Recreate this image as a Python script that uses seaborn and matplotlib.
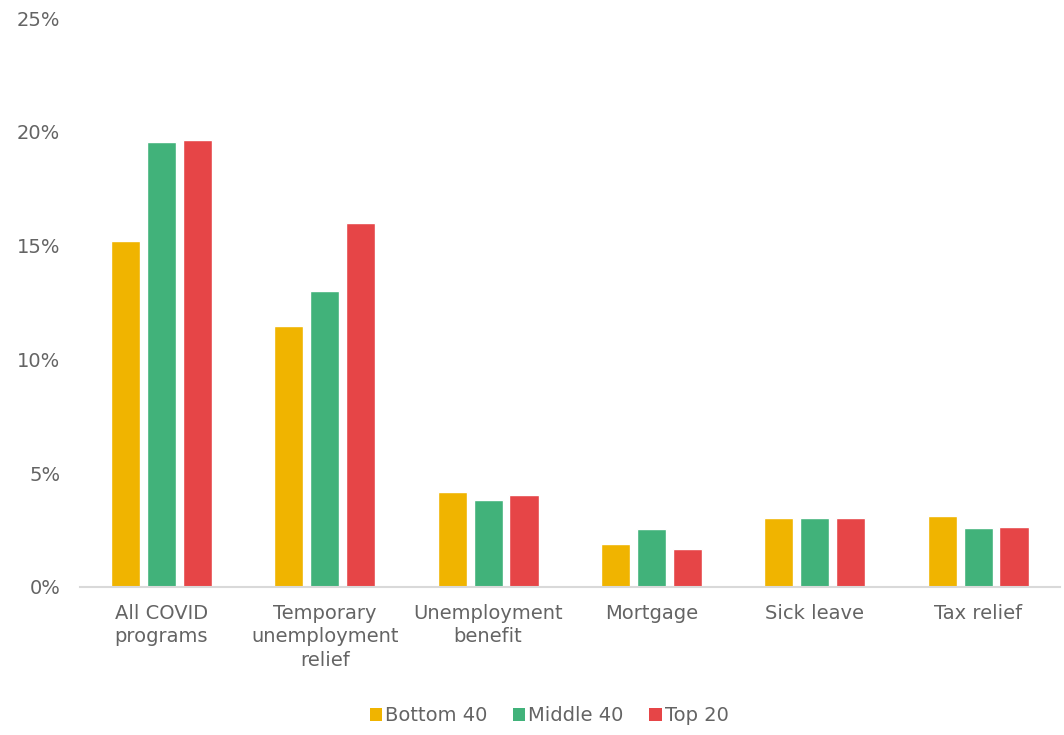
import matplotlib
matplotlib.use("Agg")
import matplotlib.pyplot as plt
import seaborn as sns
import pandas as pd
from matplotlib.ticker import PercentFormatter
from matplotlib.patches import Patch

categories = ["All COVID\nprograms", "Temporary\nunemployment\nrelief", "Unemployment\nbenefit",
              "Mortgage", "Sick leave", "Tax relief"]
series = ["Bottom 40", "Middle 40", "Top 20"]
bottom40 = [15.2, 11.45, 4.19, 1.88, 3.02, 3.11]
middle40 = [19.55, 12.99, 3.81, 2.55, 3.02, 2.58]
top20 = [19.65, 15.98, 4.04, 1.66, 3.02, 2.64]
colors = ["#F0B400", "#41B27A", "#E64547"]

rows = []
for s, vals in zip(series, [bottom40, middle40, top20]):
    for c, v in zip(categories, vals):
        rows.append({"cat": c, "series": s, "value": v / 100})
df = pd.DataFrame(rows)

sns.set_theme(style="white")
plt.rcParams['font.family'] = ['DejaVu Sans']
text_color = "#646464"

fig = plt.figure(figsize=(10.64, 7.35), dpi=100)
ax = fig.add_axes([0.075, 0.2014, 0.921, 0.774])
sns.barplot(data=df, x="cat", y="value", hue="series", palette=colors,
            width=0.66, gap=0.19, ax=ax, legend=False, saturation=1)

ax.set_ylim(0, 0.25)
ax.set_yticks([0, 0.05, 0.10, 0.15, 0.20, 0.25])
ax.yaxis.set_major_formatter(PercentFormatter(1.0, decimals=0))
ax.set_xlabel("")
ax.set_ylabel("")
for sp in ["top", "right", "left"]:
    ax.spines[sp].set_visible(False)
ax.spines["bottom"].set_color("#D9D9D9")
ax.spines["bottom"].set_linewidth(1.5)
ax.tick_params(axis="y", length=0, labelsize=14, labelcolor=text_color, pad=14)
ax.tick_params(axis="x", length=0, labelsize=14, labelcolor=text_color, pad=12)
for lbl in ax.get_xticklabels():
    lbl.set_linespacing(1.3)
ax.grid(False)

handles = [Patch(facecolor=c, edgecolor="none", label=s) for s, c in zip(series, colors)]
leg = fig.legend(handles=handles, loc="center", bbox_to_anchor=(0.516, 0.026), ncol=3,
                 frameon=False, fontsize=14, handlelength=0.65, handleheight=0.65,
                 handletextpad=0.15, columnspacing=1.3)
for t in leg.get_texts():
    t.set_color(text_color)

fig.savefig("out.png", dpi=100)
